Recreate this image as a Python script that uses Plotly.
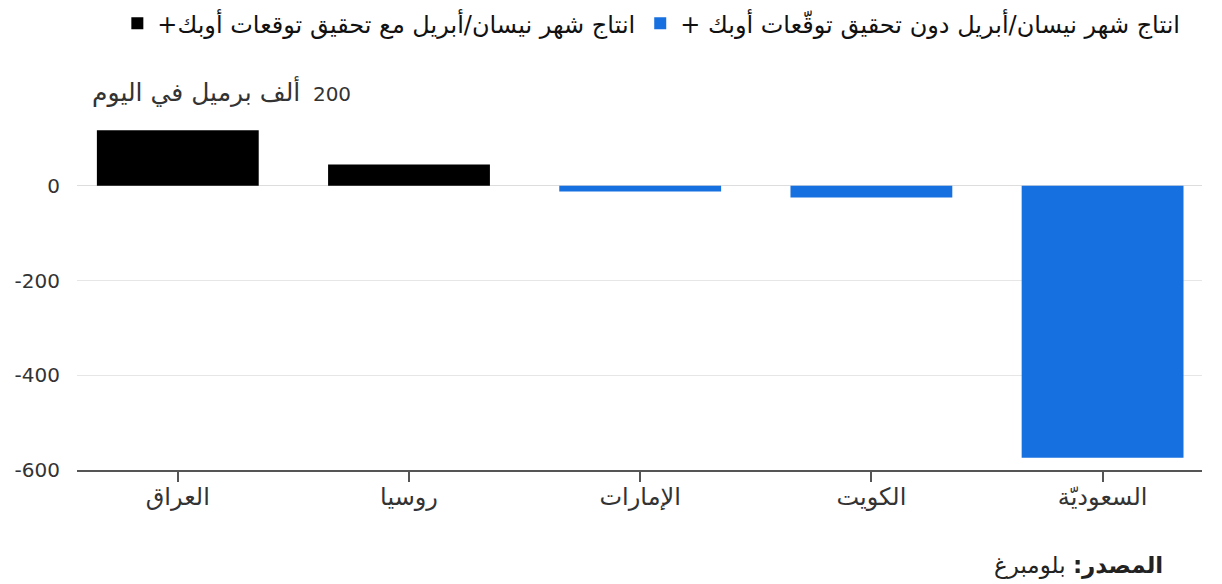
import plotly.graph_objects as go

# ---- data ----
categories = ["العراق", "روسيا", "الإمارات", "الكويت", "السعوديّة"]
met_countries = ["العراق", "روسيا"]
met_values = [117, 45]
missed_countries = ["الإمارات", "الكويت", "السعوديّة"]
missed_values = [-12, -25, -574]
met_name = "انتاج شهر نيسان/أبريل مع تحقيق توقعات أوبك+\u200f"
missed_name = "انتاج شهر نيسان/أبريل دون تحقيق توقّعات أوبك +\u200f"
y_tickvals = [-600, -400, -200, 0, 200]
y_ticktext = ["-600", "-400", "-200", "0", ""]
unit_text = "ألف برميل في اليوم"
unit_value = "200"
source_label = "<b>المصدر:</b> بلومبرغ"

BLUE = "#1770e0"
FONT = "DejaVu Sans, sans-serif"

fig = go.Figure()
fig.add_trace(go.Bar(x=met_countries, y=met_values, name=met_name,
                     marker=dict(color="#000000", line=dict(width=0)), width=0.7))
fig.add_trace(go.Bar(x=missed_countries, y=missed_values, name=missed_name,
                     marker=dict(color=BLUE, line=dict(width=0)), width=0.7))

unit_label = ("<span style='font-size:25px'>" + unit_text + "</span>\u200e  "
              + unit_value)

fig.update_layout(
    width=1222, height=584,
    margin=dict(l=77, r=20, t=91, b=114),
    paper_bgcolor="white", plot_bgcolor="white",
    barmode="overlay",
    font=dict(family=FONT, size=20, color="#333333"),
    showlegend=True,
    legend=dict(orientation="h", xref="container", yref="container",
                x=0.97, xanchor="right", y=0.998, yanchor="top",
                font=dict(size=24, color="#111111"), traceorder="normal",
                bgcolor="rgba(0,0,0,0)"),
    xaxis=dict(type="category", categoryorder="array", categoryarray=categories,
               range=[-0.436, 4.43], showgrid=False, zeroline=False,
               showline=True, linecolor="#555555", linewidth=2,
               ticks="outside", ticklen=10, tickwidth=1.5, tickcolor="#555555",
               ticklabelstandoff=-6,
               tickfont=dict(size=24, color="#333333")),
    yaxis=dict(range=[-600, 200], tickvals=y_tickvals, ticktext=y_ticktext,
               showgrid=True, gridcolor="#e6e6e6", gridwidth=1,
               zeroline=True, zerolinecolor="#dddddd", zerolinewidth=1,
               showline=False, ticks="outside", ticklen=12, tickcolor="rgba(0,0,0,0)",
               tickfont=dict(size=20, color="#333333")),
    annotations=[
        dict(text=unit_label, xref="paper", yref="y", x=0.245, y=200,
             xanchor="right", yanchor="middle", showarrow=False,
             bgcolor="white", font=dict(size=20, color="#333333")),
        dict(text=source_label, xref="paper", yref="paper", x=0.967, y=-0.252,
             xanchor="right", yanchor="middle", showarrow=False,
             font=dict(size=23, color="#222222")),
    ],
)

fig.write_html("out.html")
